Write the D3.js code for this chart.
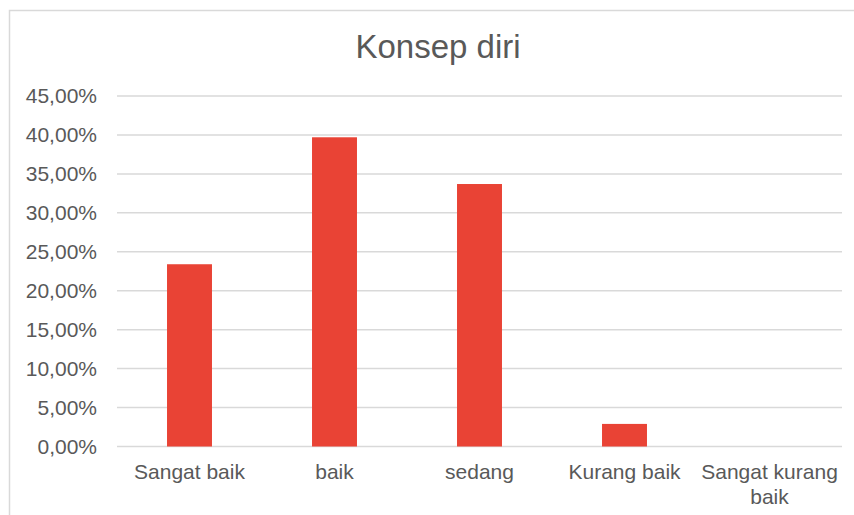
<!DOCTYPE html>
<html>
<head>
<meta charset="utf-8">
<script src="https://cdn.jsdelivr.net/npm/d3@7"></script>
<style>
  body { margin: 0; background: #fff; }
  text { font-family: "Liberation Sans", Arial, sans-serif; fill: #595959; }
</style>
</head>
<body>
<svg id="chart" width="854" height="515"></svg>
<script>
// data
const categories = ['Sangat baik', 'baik', 'sedang', 'Kurang baik', 'Sangat kurang baik'];
const values = [0.234, 0.397, 0.337, 0.029, 0];
const yTicks = [0, 0.05, 0.10, 0.15, 0.20, 0.25, 0.30, 0.35, 0.40, 0.45];
const title = 'Konsep diri';

const svg = d3.select('#chart');
const width = 854, height = 515;
const margin = { top: 96, right: 12, bottom: 68.5, left: 117 };

// chart area border (only top/left visible in the crop)
svg.append('rect')
    .attr('x', 9.5).attr('y', 10.5)
    .attr('width', 900).attr('height', 600)
    .attr('fill', '#fff')
    .attr('stroke', '#d9d9d9')
    .attr('stroke-width', 1.5);

const x = d3.scaleBand()
    .domain(categories)
    .range([margin.left, width - margin.right])
    .paddingInner(0.69)
    .paddingOuter(0.345);

const y = d3.scaleLinear()
    .domain([0, 0.45])
    .range([height - margin.bottom, margin.top]);

const locale = d3.formatLocale({ decimal: ',', thousands: '.', grouping: [3], currency: ['', ''] });
const pct = locale.format('.2%');

// gridlines
svg.append('g')
    .selectAll('line')
    .data(yTicks)
    .join('line')
    .attr('x1', margin.left)
    .attr('x2', width - margin.right)
    .attr('y1', d => y(d))
    .attr('y2', d => y(d))
    .attr('stroke', '#d9d9d9')
    .attr('stroke-width', 1.5);

// y axis labels
const yAxis = svg.append('g')
    .attr('transform', 'translate(' + margin.left + ',0)')
    .call(d3.axisLeft(y).tickValues(yTicks).tickFormat(pct).tickSize(0).tickPadding(20));
yAxis.select('.domain').remove();
yAxis.selectAll('text')
    .attr('font-size', 21)
    .attr('font-family', '"Liberation Sans", Arial, sans-serif')
    .attr('fill', '#595959');

// bars
svg.append('g')
    .selectAll('rect')
    .data(values)
    .join('rect')
    .attr('x', (d, i) => x(categories[i]))
    .attr('y', d => y(d))
    .attr('width', x.bandwidth())
    .attr('height', d => y(0) - y(d))
    .attr('fill', '#e94335');

// x axis labels (wrap long ones)
const xAxis = svg.append('g')
    .attr('transform', 'translate(0,' + (height - margin.bottom) + ')')
    .call(d3.axisBottom(x).tickSize(0).tickPadding(18));
xAxis.select('.domain').remove();
xAxis.selectAll('text')
    .attr('font-size', 21)
    .attr('font-family', '"Liberation Sans", Arial, sans-serif')
    .attr('fill', '#595959')
    .each(function(d) {
        if (d === 'Sangat kurang baik') {
            const t = d3.select(this).text(null);
            t.append('tspan').attr('x', 0).attr('dy', '0.71em').text('Sangat kurang');
            t.append('tspan').attr('x', 0).attr('dy', '1.15em').text('baik');
        }
    });

// title
svg.append('text')
    .attr('x', 438)
    .attr('y', 58)
    .attr('text-anchor', 'middle')
    .attr('font-size', 33)
    .text(title);
</script>
</body>
</html>
